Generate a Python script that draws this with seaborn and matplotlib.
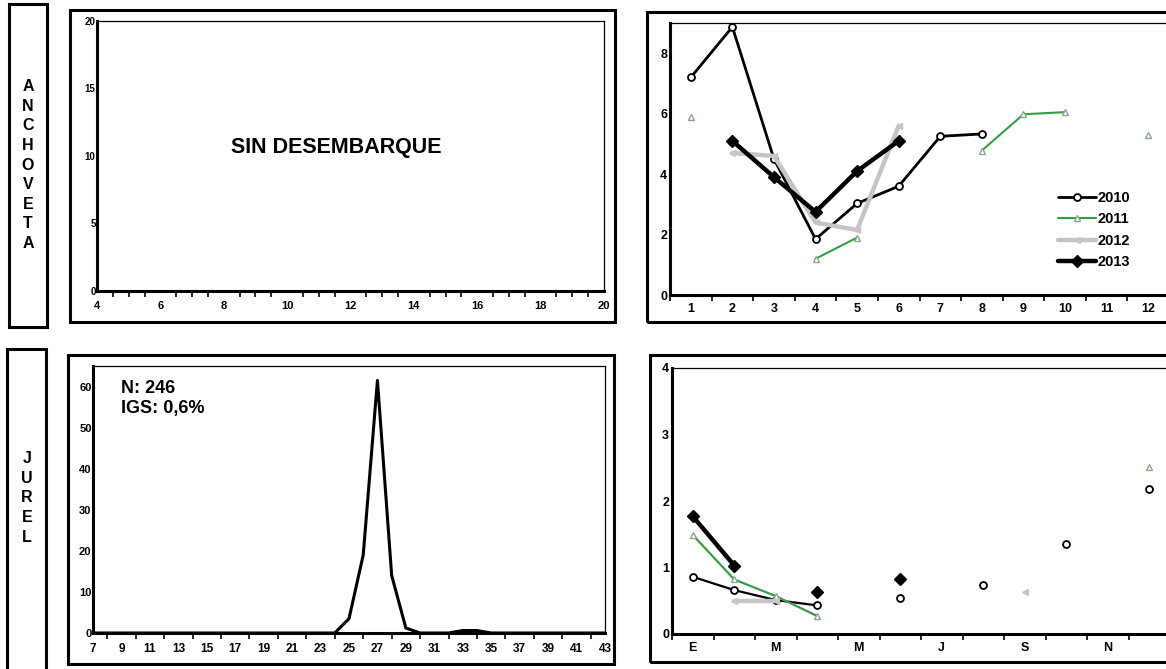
import numpy as np
import pandas as pd
import seaborn as sns
import matplotlib.pyplot as plt
from matplotlib.patches import Rectangle

# data
months = list(range(1, 13))
anch_2010 = [7.2, 8.87, 4.5, 1.85, 3.03, 3.6, 5.25, 5.33, np.nan, np.nan, np.nan, np.nan]
anch_2011 = [5.9, np.nan, np.nan, 1.2, 1.9, np.nan, np.nan, 4.78, 5.98, 6.05, np.nan, 5.3]
anch_2012 = [np.nan, 4.7, 4.6, 2.4, 2.15, 5.6, np.nan, np.nan, np.nan, np.nan, np.nan, np.nan]
anch_2013 = [np.nan, 5.1, 3.9, 2.75, 4.1, 5.1, np.nan, np.nan, np.nan, np.nan, np.nan, np.nan]

jurel_2010 = [0.86, 0.66, 0.51, 0.43, np.nan, 0.54, np.nan, 0.73, np.nan, 1.35, np.nan, 2.18]
jurel_2011 = [1.49, 0.82, 0.57, 0.27, np.nan, np.nan, np.nan, np.nan, np.nan, np.nan, np.nan, 2.51]
jurel_2012 = [np.nan, 0.5, 0.5, np.nan, np.nan, np.nan, np.nan, np.nan, 0.63, np.nan, np.nan, np.nan]
jurel_2013 = [1.77, 1.03, np.nan, 0.63, np.nan, 0.83, np.nan, np.nan, np.nan, np.nan, np.nan, np.nan]

month_labels = ["E", "", "M", "", "M", "", "J", "", "S", "", "N", ""]

tallas = list(range(7, 44))
frec_jurel = [0, 0, 0, 0, 0, 0, 0, 0, 0, 0, 0, 0, 0, 0, 0, 0, 0, 0,
              3.5, 19, 61.5, 14, 1.2, 0, 0, 0, 0.6, 0.6, 0, 0, 0, 0, 0, 0, 0, 0, 0]

sns.set_theme(style="white")
plt.rcParams['font.family'] = ['Liberation Sans', 'DejaVu Sans']
plt.rcParams['font.weight'] = 'bold'
plt.rcParams['text.color'] = 'black'
plt.rcParams['axes.labelcolor'] = 'black'
plt.rcParams['xtick.color'] = 'black'
plt.rcParams['ytick.color'] = 'black'

W, H = 1166, 669
fig = plt.figure(figsize=(W / 100, H / 100), dpi=100)
fig.patch.set_facecolor("white")


def px_axes(left, top, right, bottom):
    return fig.add_axes([left / W, 1 - bottom / H, (right - left) / W, (bottom - top) / H])


def px_box(left, top, right, bottom, lw=2.2):
    fig.patches.append(Rectangle((left / W, 1 - bottom / H), (right - left) / W, (bottom - top) / H,
                                 transform=fig.transFigure, fill=False, edgecolor="black",
                                 linewidth=lw, clip_on=False))


def style_axes(ax, size=8.5):
    for side in ["top", "right"]:
        ax.spines[side].set_linewidth(0.9)
        ax.spines[side].set_color("black")
    for side in ["left", "bottom"]:
        ax.spines[side].set_linewidth(2.2)
        ax.spines[side].set_color("black")
    ax.tick_params(axis="y", direction="in", length=4, width=1.2, pad=2, labelsize=size, colors="black")
    ax.tick_params(axis="x", direction="out", length=4, width=1.2, labelsize=size, colors="black")
    ax.tick_params(axis="x", which="minor", direction="out", length=4, width=1.2, bottom=True)
    for lab in ax.get_xticklabels() + ax.get_yticklabels():
        lab.set_fontweight("bold")


# outer frames and species labels
px_box(70, 10, 615, 322)
px_box(647, 12, 1185, 322)
px_box(68, 355, 614, 664)
px_box(650, 355, 1185, 662)
px_box(9, 4, 47, 327)
px_box(7, 349, 46, 690)

fig.text(28 / W, 1 - 165 / H, "\n".join("ANCHOVETA"), ha="center", va="center",
         fontsize=11.5, fontweight="bold", linespacing=1.38)
fig.text(27 / W, 1 - 498 / H, "\n".join("JUREL"), ha="center", va="center",
         fontsize=11.5, fontweight="bold", linespacing=1.38)

# top left: anchoveta length frequency (no landings)
ax1 = px_axes(97, 21, 604, 291)
ax1.set_xlim(4, 20)
ax1.set_ylim(0, 20)
ax1.set_xticks(range(4, 21, 2))
ax1.set_xticks(np.arange(4, 20.01, 0.5), minor=True)
ax1.set_yticks(range(0, 21, 5))
style_axes(ax1, 8)
ax1.tick_params(axis="y", labelsize=7, pad=1)
ax1.text(11.55, 10.6, "SIN DESEMBARQUE", ha="center", va="center", fontsize=15.5, fontweight="bold")

# top right: anchoveta monthly series
ax2 = px_axes(670, 23, 1169, 295)
df_anch = pd.DataFrame({"mes": months, "2010": anch_2010, "2011": anch_2011,
                        "2012": anch_2012, "2013": anch_2013})
ax2.plot(df_anch["mes"], df_anch["2010"], color="black", lw=2, marker="o", ms=5,
         mfc="white", mec="black", mew=1.3, label="2010")
ax2.plot(df_anch["mes"], df_anch["2011"], color="#3a9b48", lw=1.5, marker="^", ms=5,
         mfc="white", mec="#8aa68e", mew=1, label="2011")
ax2.plot(df_anch["mes"], df_anch["2012"], color="#c8c3c8", lw=3.2, marker="<", ms=5,
         mfc="#c8c3c8", mec="#c8c3c8", label="2012")
ax2.plot(df_anch["mes"], df_anch["2013"], color="black", lw=3.2, marker="D", ms=6,
         mfc="black", mec="black", label="2013")
ax2.set_xlim(0.5, 12.5)
ax2.set_ylim(0, 9)
ax2.set_xticks(months)
ax2.set_xticks(np.arange(0.5, 12.6, 1), minor=True)
ax2.set_yticks(range(0, 9, 2))
style_axes(ax2, 9)
ax2.tick_params(axis="x", which="major", length=0, pad=6)
leg = ax2.legend(loc="upper left", bbox_to_anchor=(0.752, 0.43), frameon=False,
                 handlelength=2.6, handletextpad=0.05, labelspacing=0.5,
                 prop={"weight": "bold", "size": 10.5})

# bottom left: jurel length frequency
ax3 = px_axes(93, 366, 605, 633)
df_jurel = pd.DataFrame({"talla": tallas, "frecuencia": frec_jurel})
sns.lineplot(data=df_jurel, x="talla", y="frecuencia", color="black", lw=2.2, ax=ax3)
ax3.set_xlim(7, 43)
ax3.set_ylim(0, 65)
ax3.set_xticks(range(7, 44, 2))
ax3.set_xticks(range(7, 44), minor=True)
ax3.set_yticks(range(0, 61, 10))
ax3.set_xlabel("")
ax3.set_ylabel("")
style_axes(ax3, 8.5)
ax3.tick_params(axis="y", labelsize=8, pad=1)
ax3.text(9.0, 61.5, "N: 246\nIGS: 0,6%", ha="left", va="top", fontsize=13,
         fontweight="bold", linespacing=1.2)

# bottom right: jurel monthly series
ax4 = px_axes(672, 368, 1170, 634)
df_jur = pd.DataFrame({"mes": months, "2010": jurel_2010, "2011": jurel_2011,
                       "2012": jurel_2012, "2013": jurel_2013})
ax4.plot(df_jur["mes"], df_jur["2010"], color="black", lw=1.6, marker="o", ms=5,
         mfc="white", mec="black", mew=1.3)
ax4.plot(df_jur["mes"], df_jur["2011"], color="#3a9b48", lw=1.6, marker="^", ms=5,
         mfc="white", mec="#8aa68e", mew=1)
ax4.plot(df_jur["mes"], df_jur["2012"], color="#c8c3c8", lw=3.2, marker="<", ms=5,
         mfc="#c8c3c8", mec="#c8c3c8")
ax4.plot(df_jur["mes"], df_jur["2013"], color="black", lw=3.2, marker="D", ms=6,
         mfc="black", mec="black")
ax4.set_xlim(0.5, 12.5)
ax4.set_ylim(0, 4)
ax4.set_xticks(months)
ax4.set_xticklabels(month_labels)
ax4.set_xticks(np.arange(0.5, 12.6, 1), minor=True)
ax4.set_yticks(range(0, 5))
style_axes(ax4, 9)
ax4.tick_params(axis="x", which="major", length=0, pad=6)

fig.savefig("out.png", dpi=100, facecolor="white")
